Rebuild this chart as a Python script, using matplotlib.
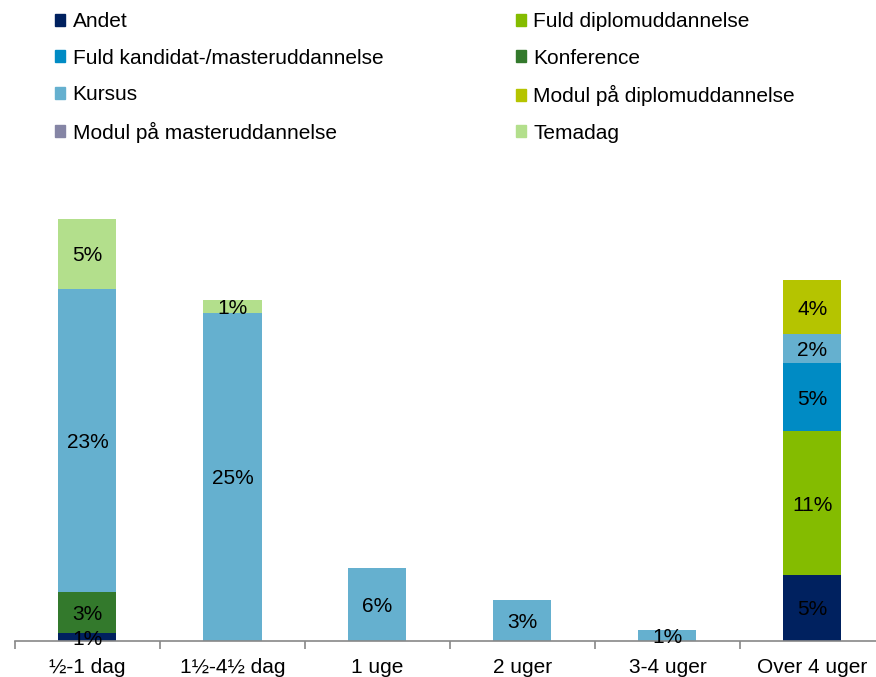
import numpy as np
import matplotlib
matplotlib.use('Agg')
import matplotlib.pyplot as plt
from matplotlib.patches import Patch

plt.rcParams['font.family'] = ['Liberation Sans', 'DejaVu Sans']

categories = ['½-1 dag', '1½-4½ dag', '1 uge', '2 uger', '3-4 uger', 'Over 4 uger']

# stacked series, bottom to top (share of respondents, %)
andet          = [0.6, 0.0, 0.0, 0.0, 0.0, 5.0]
fuld_diplom    = [0.0, 0.0, 0.0, 0.0, 0.0, 10.9]
fuld_kandidat  = [0.0, 0.0, 0.0, 0.0, 0.0, 5.15]
konference     = [3.1, 0.0, 0.0, 0.0, 0.0, 0.0]
kursus         = [22.95, 24.85, 5.55, 3.1, 0.83, 2.2]
modul_diplom   = [0.0, 0.0, 0.0, 0.0, 0.0, 4.1]
modul_master   = [0.0, 0.0, 0.0, 0.0, 0.0, 0.0]
temadag        = [5.38, 0.98, 0.0, 0.0, 0.0, 0.0]

series = [
    ('Andet', andet, '#00215F'),
    ('Fuld diplomuddannelse', fuld_diplom, '#84BC00'),
    ('Fuld kandidat-/masteruddannelse', fuld_kandidat, '#008BC4'),
    ('Konference', konference, '#33792C'),
    ('Kursus', kursus, '#65B0CF'),
    ('Modul på diplomuddannelse', modul_diplom, '#B5C400'),
    ('Modul på masteruddannelse', modul_master, '#8585A5'),
    ('Temadag', temadag, '#B3DF8C'),
]

fig = plt.figure(figsize=(8.76, 6.77), dpi=100)
ax = fig.add_axes([15 / 876, 36 / 677, 870 / 876, 422.4 / 677])

x = np.arange(len(categories))
bottom = np.zeros(len(categories))
for name, vals, col in series:
    vals = np.array(vals)
    ax.bar(x, vals, 0.4, bottom=bottom, color=col, edgecolor='none')
    for xi, b, v in zip(x, bottom, vals):
        if v > 0:
            ax.text(xi, b + v / 2 - 0.15, '{:.0f}%'.format(v), ha='center', va='center',
                    fontsize=15, color='black')
    bottom += vals

ax.set_xlim(-0.5, len(categories) - 0.5)
ax.set_ylim(0, 32)
ax.set_yticks([])
for s in ['top', 'right', 'left']:
    ax.spines[s].set_visible(False)
ax.spines['bottom'].set_color('#888888')
ax.spines['bottom'].set_linewidth(1.2)
ax.set_xticks(x)
ax.set_xticklabels(categories, fontsize=15)
ax.tick_params(axis='x', which='major', length=0, pad=12)
ax.set_xticks(np.arange(-0.5, len(categories)), minor=True)
ax.tick_params(axis='x', which='minor', length=6, color='#888888', width=1.2)

handles = [Patch(color=c, label=n) for n, v, c in series]
order = [0, 2, 4, 6, 1, 3, 5, 7]
fig.legend([handles[i] for i in order], [series[i][0] for i in order],
           loc='upper left', bbox_to_anchor=(55 / 876, 1 - 12 / 677), ncol=2,
           frameon=False, fontsize=15, borderpad=0, borderaxespad=0,
           handlelength=0.5, handleheight=0.5, handletextpad=0.35,
           labelspacing=0.84, columnspacing=6.35)

fig.savefig('out.png', dpi=100)
